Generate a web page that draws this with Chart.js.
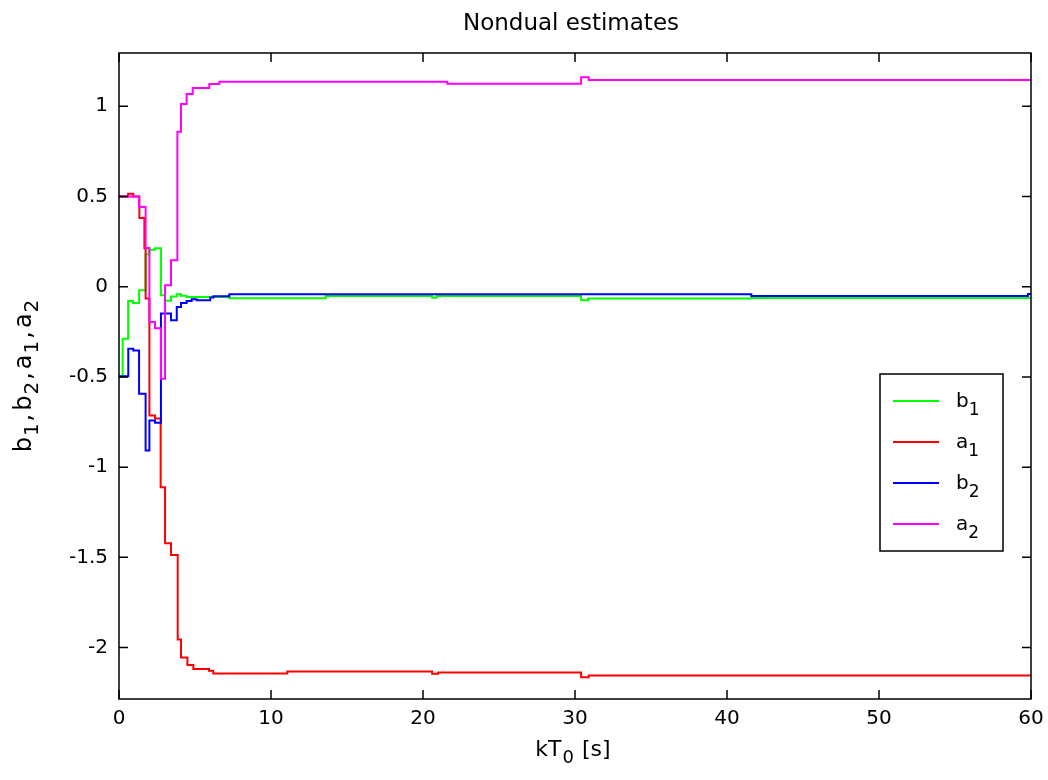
<html>
  <head>
    <script src="https://cdn.jsdelivr.net/npm/chart.js"></script>
    <style>
      body { margin: 0; background: #fff; }
      canvas { display: block; }
    </style>
  </head>
  <body>
    <canvas id="graph-estimates" width="1048" height="780"></canvas>
    <script>
      // estimates (value held from each time until the next one)
      var b1Times  = [0, 0.24, 0.6, 0.92, 1.32, 1.75, 2.0, 2.37, 2.76, 3.03, 3.42, 3.8, 4.08, 4.45, 7.26, 13.6, 20.6, 20.9, 30.4, 30.85, 41.6, 60];
      var b1Values = [-0.5, -0.288, -0.079, -0.09, -0.02, 0.18, 0.205, 0.213, -0.048, -0.078, -0.055, -0.042, -0.05, -0.057, -0.064, -0.052, -0.062, -0.052, -0.075, -0.066, -0.063, -0.063];

      var a1Times  = [0, 0.6, 0.94, 1.34, 1.67, 1.75, 2.0, 2.37, 2.74, 3.03, 3.42, 3.86, 4.08, 4.5, 4.89, 5.92, 6.2, 11.07, 20.6, 21.0, 30.4, 30.9, 60];
      var a1Values = [0.5, 0.515, 0.5, 0.381, 0.213, -0.066, -0.714, -0.73, -1.111, -1.422, -1.487, -1.955, -2.055, -2.097, -2.119, -2.129, -2.144, -2.133, -2.145, -2.138, -2.165, -2.155, -2.155];

      var b2Times  = [0, 0.61, 0.94, 1.32, 1.75, 2.0, 2.37, 2.76, 3.42, 3.8, 4.08, 4.45, 4.78, 5.11, 6.0, 6.21, 7.26, 41.6, 59.8, 60];
      var b2Values = [-0.497, -0.344, -0.353, -0.593, -0.908, -0.741, -0.754, -0.149, -0.186, -0.112, -0.09, -0.08, -0.07, -0.075, -0.06, -0.053, -0.042, -0.052, -0.04, -0.04];

      var a2Times  = [0, 1.32, 1.75, 2.0, 2.37, 2.76, 3.03, 3.42, 3.84, 4.08, 4.45, 4.85, 5.94, 6.6, 21.6, 30.4, 30.9, 60];
      var a2Values = [0.5, 0.442, 0.215, -0.196, -0.23, -0.51, 0.008, 0.146, 0.858, 1.012, 1.068, 1.101, 1.123, 1.135, 1.125, 1.16, 1.145, 1.145];

      var xTickValues = [0, 10, 20, 30, 40, 50, 60];
      var yTickValues = [-2, -1.5, -1, -0.5, 0, 0.5, 1];

      var FONT = "'DejaVu Sans', sans-serif";

      function toPoints(times, values) {
        var pts = [];
        for (var i = 0; i < times.length; i++) {
          pts.push({ x: times[i], y: values[i] });
        }
        return pts;
      }

      function makeSet(name, times, values, color, order) {
        return {
          label: name,
          data: toPoints(times, values),
          borderColor: color,
          backgroundColor: color,
          borderWidth: 2,
          pointRadius: 0,
          stepped: 'before',
          fill: false,
          order: order
        };
      }

      // text with subscripts, centred on x
      // parts: [text, isSub, gapAfter]
      function drawParts(ctx, parts, x, y, size) {
        var subSize = Math.round(size * 0.82);
        var total = 0;
        parts.forEach(function (p, i) {
          ctx.font = (p[1] ? subSize : size) + "px " + FONT;
          total += ctx.measureText(p[0]).width + (i < parts.length - 1 ? (p[2] || 0) : 0);
        });
        var cx = x - total / 2;
        parts.forEach(function (p) {
          ctx.font = (p[1] ? subSize : size) + "px " + FONT;
          ctx.fillText(p[0], cx, p[1] ? y + 7 : y);
          cx += ctx.measureText(p[0]).width + (p[2] || 0);
        });
      }

      var framePlugin = {
        id: 'matlabFrame',
        afterDatasetsDraw: function (chart) {
          var ctx = chart.ctx;
          var a = chart.chartArea;
          var xs = chart.scales.x, ys = chart.scales.y;
          ctx.save();
          ctx.strokeStyle = '#000';
          ctx.lineWidth = 1.5;
          ctx.strokeRect(a.left, a.top, a.right - a.left, a.bottom - a.top);
          ctx.beginPath();
          xTickValues.forEach(function (v) {
            var px = xs.getPixelForValue(v);
            ctx.moveTo(px, a.bottom); ctx.lineTo(px, a.bottom - 9);
            ctx.moveTo(px, a.top); ctx.lineTo(px, a.top + 9);
          });
          yTickValues.forEach(function (v) {
            var py = ys.getPixelForValue(v);
            ctx.moveTo(a.left, py); ctx.lineTo(a.left + 9, py);
            ctx.moveTo(a.right, py); ctx.lineTo(a.right - 9, py);
          });
          ctx.stroke();

          ctx.fillStyle = '#000';
          ctx.textBaseline = 'alphabetic';
          ctx.textAlign = 'left';
          // title
          drawParts(ctx, [['Nondual estimates']], 571, 30, 23);
          // x label
          drawParts(ctx, [['kT', false, 1], ['0', true, 1], [' [s]']], 573, 756, 22);
          // y label, rotated
          ctx.save();
          ctx.translate(31, (a.top + a.bottom) / 2);
          ctx.rotate(-Math.PI / 2);
          drawParts(ctx, [
            ['b', false, 1], ['1', true, 2], [',', false, 3],
            ['b', false, 1], ['2', true, 2], [',', false, 3],
            ['a', false, 1], ['1', true, 2], [',', false, 3],
            ['a', false, 1], ['2', true]
          ], 0, 0, 24);
          ctx.restore();

          // legend box
          var lx = 880, ly = 374, lw = 123, lh = 177;
          ctx.fillStyle = '#fff';
          ctx.fillRect(lx, ly, lw, lh);
          ctx.strokeStyle = '#000';
          ctx.lineWidth = 1.5;
          ctx.strokeRect(lx, ly, lw, lh);
          var names = [['b', '1'], ['a', '1'], ['b', '2'], ['a', '2']];
          [0, 1, 2, 3].forEach(function (di, k) {
            var ds = chart.data.datasets[di];
            var yy = 401 + k * 41;
            ctx.strokeStyle = ds.borderColor;
            ctx.lineWidth = 2;
            ctx.beginPath();
            ctx.moveTo(893, yy); ctx.lineTo(939, yy);
            ctx.stroke();
            ctx.fillStyle = '#000';
            ctx.font = "20px " + FONT;
            ctx.fillText(names[k][0], 956, yy + 6);
            var w = ctx.measureText(names[k][0]).width;
            ctx.font = "17px " + FONT;
            ctx.fillText(names[k][1], 956 + w, yy + 14);
          });
          ctx.restore();
        }
      };

      var tickFont = { family: FONT, size: 20 };

      var ctx = document.getElementById('graph-estimates').getContext('2d');
      var graph = new Chart(ctx, {
        type: 'line',
        data: {
          datasets: [
            makeSet('b1', b1Times, b1Values, '#00ff00', 4),
            makeSet('a1', a1Times, a1Values, '#ff0000', 3),
            makeSet('b2', b2Times, b2Values, '#0000ff', 2),
            makeSet('a2', a2Times, a2Values, '#ff00ff', 1)
          ]
        },
        options: {
          responsive: false,
          animation: false,
          layout: { padding: { top: 53, right: 17, bottom: 0, left: 0 } },
          plugins: {
            legend: { display: false },
            title: { display: false },
            tooltip: { enabled: false }
          },
          scales: {
            x: {
              type: 'linear',
              min: 0,
              max: 60,
              grid: { display: false, drawTicks: false },
              border: { display: false },
              afterBuildTicks: function (s) { s.ticks = xTickValues.map(function (v) { return { value: v }; }); },
              afterFit: function (s) { s.height = 81; s.paddingLeft = 0; s.paddingRight = 0; },
              ticks: { color: '#000', font: tickFont, padding: 8, maxRotation: 0 }
            },
            y: {
              type: 'linear',
              min: -2.285,
              max: 1.295,
              grid: { display: false, drawTicks: false },
              border: { display: false },
              afterBuildTicks: function (s) { s.ticks = yTickValues.map(function (v) { return { value: v }; }); },
              afterFit: function (s) { s.width = 119; s.paddingTop = 0; s.paddingBottom = 0; },
              ticks: {
                color: '#000', font: tickFont, padding: 11,
                callback: function (v) { return String(v); }
              }
            }
          }
        },
        plugins: [framePlugin]
      });
    </script>
  </body>
</html>
